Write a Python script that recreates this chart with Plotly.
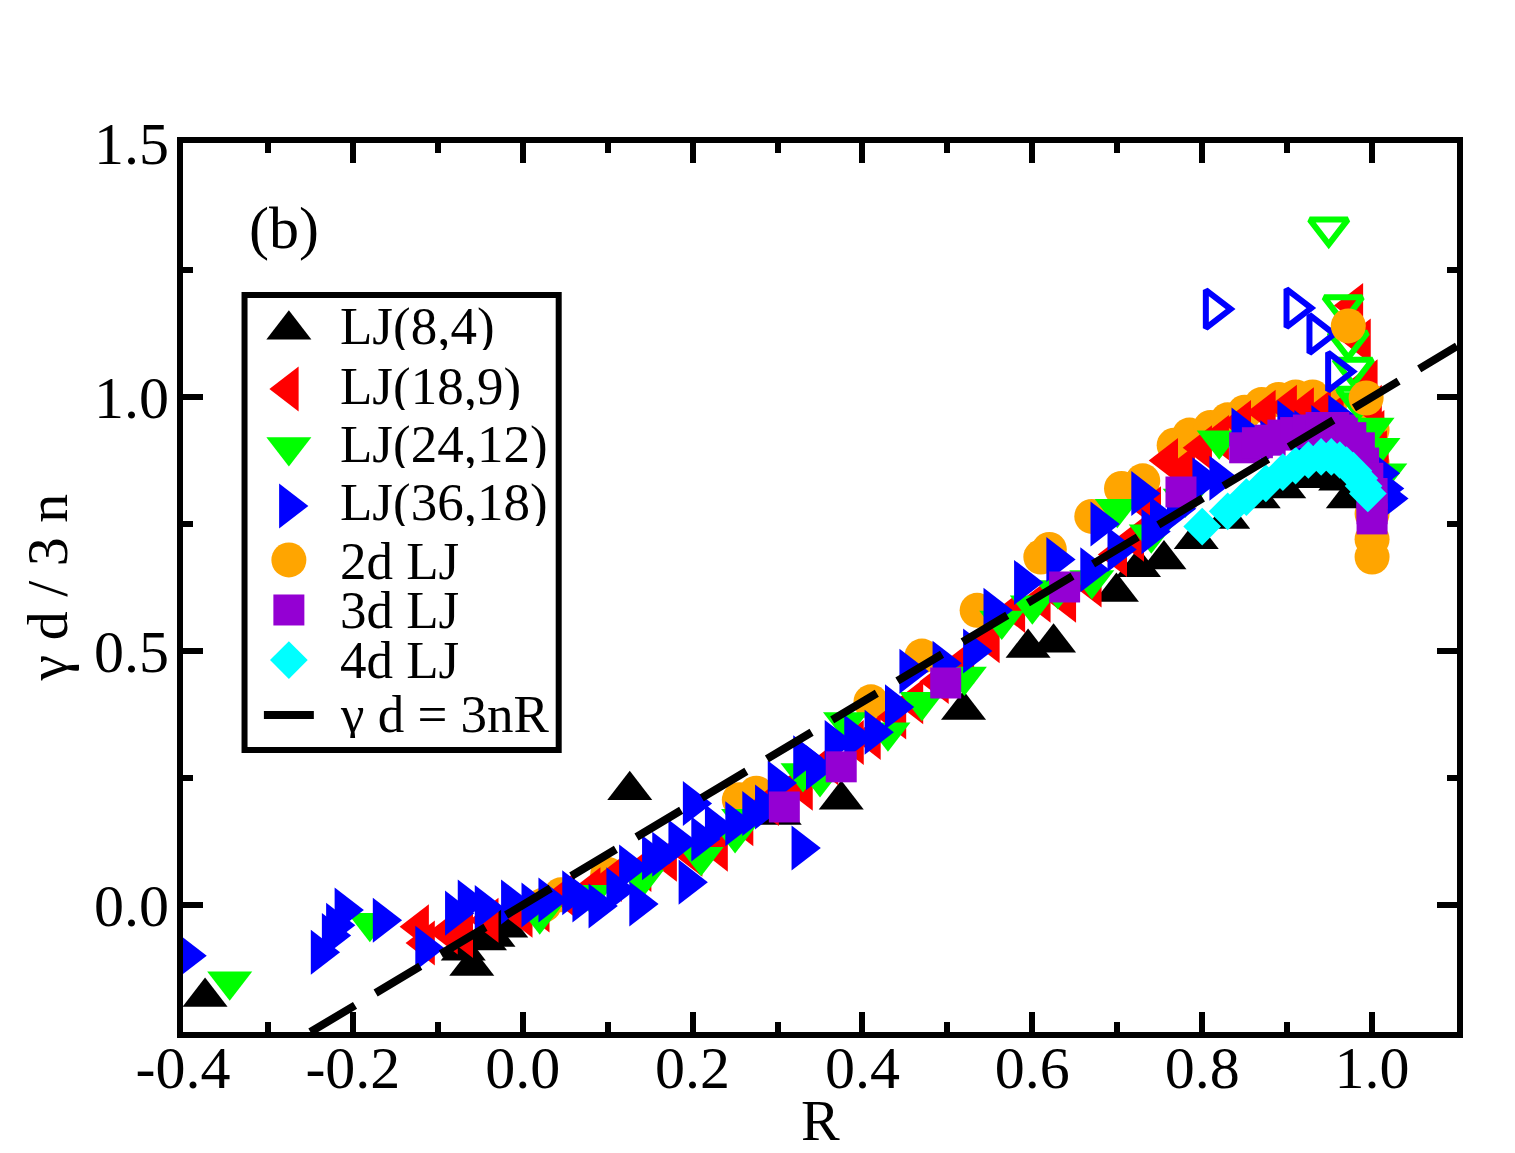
import plotly.graph_objects as go

# ---------------- data ----------------
# LJ(8,4)  black filled up-triangles
lj8_R = [-0.374, -0.07, -0.06, -0.045, -0.035, -0.03, -0.02, 0.126, 0.302, 0.375, 0.519,
         0.595, 0.625, 0.699, 0.725, 0.755, 0.793, 0.83, 0.866, 0.896, 0.92, 0.948, 0.963, 0.972]
lj8_V = [-0.181, -0.09, -0.12, -0.07, -0.063, -0.035, -0.045, 0.226, 0.177, 0.207, 0.384,
         0.506, 0.516, 0.616, 0.665, 0.68, 0.72, 0.76, 0.80, 0.82, 0.84, 0.848, 0.835, 0.80]

# LJ(18,9) red filled left-triangles
lj18_R = [-0.122, -0.115, -0.088, -0.07, -0.04, 0.0, 0.02, 0.05, 0.08, 0.105, 0.14, 0.17, 0.2,
          0.23, 0.26, 0.29, 0.31, 0.33, 0.36, 0.39, 0.41, 0.44, 0.46, 0.49, 0.52, 0.55, 0.58,
          0.61, 0.64, 0.67, 0.7, 0.72, 0.74, 0.76, 0.78, 0.8, 0.82, 0.846, 0.875, 0.9, 0.92,
          0.94, 0.955, 0.978, 0.987, 0.995, 1.0, 1.003, 1.006, 1.008]
lj18_V = [-0.043, -0.075, -0.053, -0.06, -0.03, -0.02, -0.01, 0.02, 0.03, 0.05, 0.07, 0.09, 0.10,
          0.11, 0.16, 0.20, 0.22, 0.23, 0.28, 0.32, 0.33, 0.37, 0.40, 0.44, 0.48, 0.52, 0.58,
          0.60, 0.60, 0.63, 0.69, 0.72, 0.78, 0.875, 0.86, 0.90, 0.92, 0.95, 0.97, 0.98, 0.975,
          0.97, 0.96, 1.18, 1.11, 1.03, 0.98, 0.93, 0.89, 0.85]

# LJ(24,12) green filled down-triangles
lj24_R = [-0.345, -0.18, 0.02, 0.08, 0.14, 0.21, 0.25, 0.26, 0.33, 0.35, 0.38, 0.43, 0.47,
          0.52, 0.564, 0.6, 0.63, 0.67, 0.70, 0.74, 0.78, 0.82, 0.984, 1.0, 1.007, 1.015]
lj24_V = [-0.15, -0.035, -0.02, 0.02, 0.05, 0.095, 0.14, 0.17, 0.26, 0.25, 0.36, 0.34, 0.40,
          0.45, 0.56, 0.59, 0.62, 0.64, 0.78, 0.73, 0.80, 0.915, 0.99, 0.94, 0.90, 0.85]
# LJ(24,12) open down-triangles
lj24o_R = [0.949, 0.966, 0.972, 0.978, 0.982]
lj24o_V = [1.333, 1.18, 1.11, 1.057, 1.0]

# LJ(36,18) blue filled right-triangles
lj36_R = [-0.395, -0.238, -0.225, -0.22, -0.21, -0.165, -0.115, -0.08, -0.065, -0.045, -0.014,
          0.01, 0.03, 0.058, 0.07, 0.089, 0.11, 0.125, 0.137, 0.152, 0.164, 0.183, 0.195, 0.2,
          0.21, 0.226, 0.25, 0.27, 0.285, 0.3, 0.328, 0.33, 0.345, 0.367, 0.39, 0.414, 0.438,
          0.455, 0.494, 0.53, 0.554, 0.59, 0.628, 0.668, 0.68, 0.7, 0.728, 0.74, 0.75, 0.77,
          0.8, 0.82, 0.846, 0.854, 0.88, 0.9, 0.92, 0.94, 0.96, 1.01, 1.015, 1.02]
lj36_V = [-0.10, -0.093, -0.06, -0.04, -0.01, -0.03, -0.085, -0.016, 0.006, -0.005, 0.006,
          0.0, 0.01, 0.024, 0.01, -0.002, 0.03, 0.075, 0.002, 0.093, 0.10, 0.124, 0.045, 0.2,
          0.13, 0.154, 0.16, 0.18, 0.193, 0.24, 0.112, 0.29, 0.27, 0.32, 0.33, 0.34, 0.39,
          0.46, 0.476, 0.50, 0.58, 0.635, 0.68, 0.66, 0.75, 0.70, 0.81, 0.735, 0.76, 0.78,
          0.837, 0.84, 0.935, 0.92, 0.91, 0.95, 0.93, 0.94, 0.96, 0.85, 0.82, 0.80]
# LJ(36,18) open right-triangles
lj36o_R = [0.814, 0.909, 0.936, 0.958]
lj36o_V = [1.173, 1.175, 1.124, 1.05]

# 2d LJ orange circles
d2_R = [0.025, 0.045, 0.1, 0.255, 0.275, 0.41, 0.47, 0.535, 0.61, 0.62, 0.67, 0.705, 0.73,
        0.767, 0.785, 0.81, 0.83, 0.85, 0.87, 0.89, 0.91, 0.93, 0.95, 1.0, 1.0,
        1.0, 1.0, 1.0, 1.0]
d2_V = [0.0, 0.02, 0.06, 0.207, 0.22, 0.40, 0.49, 0.58, 0.685, 0.70, 0.765, 0.82, 0.835,
        0.905, 0.925, 0.94, 0.955, 0.97, 0.985, 0.995, 1.0, 1.0, 0.985, 0.935,
        0.87, 0.82, 0.77, 0.72, 0.685]
# 2d LJ circles lying on top of the triangles near R = 1
d2_top_R = [0.972, 0.993]
d2_top_V = [1.14, 0.998]

# 3d LJ purple squares
d3_R = [0.308, 0.375, 0.498, 0.638, 0.775, 0.85, 0.865, 0.88, 0.895, 0.91, 0.925, 0.94, 0.955,
        0.965, 0.975, 0.985, 0.99, 0.995, 1.0, 1.0, 1.0]
d3_V = [0.193, 0.272, 0.437, 0.626, 0.813, 0.90, 0.91, 0.915, 0.925, 0.93, 0.935, 0.94, 0.94,
        0.935, 0.92, 0.90, 0.87, 0.84, 0.81, 0.78, 0.76]

# 4d LJ cyan diamonds
d4_R = [0.80, 0.83, 0.852, 0.875, 0.895, 0.91, 0.925, 0.94, 0.952, 0.962, 0.97, 0.978, 0.985,
        0.99, 0.995]
d4_V = [0.745, 0.775, 0.803, 0.83, 0.852, 0.865, 0.876, 0.882, 0.882, 0.876, 0.866, 0.855,
        0.84, 0.825, 0.81]

# gamma d = 3nR  (gamma d / 3n = R)
fit_R = [-0.25, 1.1]
fit_V = [-0.25, 1.1]

x_tickvals = [-0.4, -0.2, 0.0, 0.2, 0.4, 0.6, 0.8, 1.0]
x_ticktext = ["-0.4", "-0.2", "0.0", "0.2", "0.4", "0.6", "0.8", "1.0"]
x_minor = [-0.3, -0.1, 0.1, 0.3, 0.5, 0.7, 0.9, 1.1]
y_tickvals = [0.0, 0.5, 1.0, 1.5]
y_ticktext = ["0.0", "0.5", "1.0", "1.5"]
y_minor = [-0.25, 0.25, 0.75, 1.25]

legend_names = ["LJ(8,4)", "LJ(18,9)", "LJ(24,12)", "LJ(36,18)", "2d LJ", "3d LJ", "4d LJ", "\u03b3 d = 3nR"]

# ---------------- styles ----------------
FONT = "Liberation Serif"
BLACK, RED, GREEN, BLUE = "#000000", "#ff0000", "#00ff00", "#0000ff"
ORANGE, PURPLE, CYAN = "#ffa500", "#9400d3", "#00ffff"
TRI = 39
CIRC, SQ, DIA = 35, 31, 29

series = [
    (d2_R, d2_V, "circle", ORANGE, CIRC),
    (lj8_R, lj8_V, "triangle-up", BLACK, TRI),
    (lj18_R, lj18_V, "triangle-left", RED, TRI),
    (lj24_R, lj24_V, "triangle-down", GREEN, TRI),
    (lj36_R, lj36_V, "triangle-right", BLUE, TRI),
    (d3_R, d3_V, "square", PURPLE, SQ),
    (d4_R, d4_V, "diamond", CYAN, DIA),
]

fig = go.Figure()
for xs, ys, sym, col, sz in series:
    fig.add_trace(go.Scatter(x=xs, y=ys, mode="markers", cliponaxis=False, showlegend=False,
                             marker=dict(symbol=sym, color=col, size=sz, line=dict(width=0))))

for xs, ys, sym, col in [(lj24o_R, lj24o_V, "triangle-down-open", GREEN),
                         (lj36o_R, lj36o_V, "triangle-right-open", BLUE)]:
    fig.add_trace(go.Scatter(x=xs, y=ys, mode="markers", cliponaxis=False, showlegend=False,
                             marker=dict(symbol=sym, color=col, size=33, line=dict(width=6, color=col))))

fig.add_trace(go.Scatter(x=d2_top_R, y=d2_top_V, mode="markers", cliponaxis=False, showlegend=False,
                         marker=dict(symbol="circle", color=ORANGE, size=CIRC, line=dict(width=0))))

fig.add_trace(go.Scatter(x=fit_R, y=fit_V, mode="lines", showlegend=False,
                         line=dict(color=BLACK, width=8, dash="52px,24px")))

# ---------------- hand-drawn legend (large keys, like the original) ----------------
key_x = 0.0831
key_y = [0.790, 0.7233, 0.658, 0.5917, 0.531, 0.4747, 0.4184]
key_styles = [("triangle-up", BLACK, TRI), ("triangle-left", RED, TRI), ("triangle-down", GREEN, TRI),
              ("triangle-right", BLUE, TRI), ("circle", ORANGE, CIRC), ("square", PURPLE, SQ),
              ("diamond", CYAN, DIA)]
for (sym, col, sz), ky in zip(key_styles, key_y):
    fig.add_trace(go.Scatter(x=[key_x], y=[ky], xaxis="x2", yaxis="y2", mode="markers",
                             showlegend=False, hoverinfo="skip",
                             marker=dict(symbol=sym, color=col, size=sz, line=dict(width=0))))
fig.add_trace(go.Scatter(x=[0.0635, 0.1027], y=[0.3566, 0.3566], xaxis="x2", yaxis="y2",
                         mode="lines", showlegend=False, hoverinfo="skip",
                         line=dict(color=BLACK, width=8)))

text_y = [0.7942, 0.7267, 0.6614, 0.5962, 0.5298, 0.4747, 0.4184, 0.3577]
annotations = []
for name, ty in zip(legend_names, text_y):
    annotations.append(dict(text=name, x=0.1215, y=ty, xref="paper", yref="paper",
                            xanchor="left", yanchor="middle", showarrow=False, height=48,
                            valign="middle",
                            font=dict(family=FONT, size=53, color="black")))
annotations.append(dict(text="(b)", x=0.0792, y=0.9044, xref="paper", yref="paper",
                        xanchor="center", yanchor="middle", showarrow=False,
                        font=dict(family=FONT, size=60, color="black")))
annotations.append(dict(text="R", x=0.5, y=-0.099, xref="paper", yref="paper",
                        xanchor="center", yanchor="middle", showarrow=False,
                        font=dict(family=FONT, size=58, color="black")))
annotations.append(dict(text="\u03b3 d / 3 n", x=-0.106, y=0.5, xref="paper", yref="paper",
                        xanchor="center", yanchor="middle", showarrow=False, textangle=-90,
                        font=dict(family=FONT, size=58, color="black")))

axis_common = dict(showline=True, linewidth=6, linecolor="black", mirror="allticks",
                   ticks="inside", ticklen=20, tickwidth=6, tickcolor="black",
                   showgrid=False, zeroline=False,
                   tickfont=dict(family=FONT, size=60, color="black"))

fig.update_layout(
    width=1515, height=1153,
    margin=dict(l=183, r=58, t=143, b=121),
    paper_bgcolor="white", plot_bgcolor="white",
    showlegend=False,
    xaxis=dict(range=[-0.4, 1.1], tickmode="array", tickvals=x_tickvals, ticktext=x_ticktext,
               ticklabelstandoff=-22,
               minor=dict(tickmode="array", tickvals=x_minor, ticks="inside", ticklen=10,
                          tickwidth=6, tickcolor="black"),
               **axis_common),
    yaxis=dict(range=[-0.25, 1.5], tickmode="array", tickvals=y_tickvals, ticktext=y_ticktext,
               ticklabelstandoff=-4,
               minor=dict(tickmode="array", tickvals=y_minor, ticks="inside", ticklen=10,
                          tickwidth=6, tickcolor="black"),
               **axis_common),
    xaxis2=dict(overlaying="x", range=[0, 1], visible=False),
    yaxis2=dict(overlaying="y", range=[0, 1], visible=False),
    shapes=[dict(type="rect", xref="paper", yref="paper", x0=0.0483, x1=0.2949, y0=0.3172,
                 y1=0.829, line=dict(color="black", width=6), fillcolor="white", layer="below")],
    annotations=annotations,
)

fig.write_html("out.html")
